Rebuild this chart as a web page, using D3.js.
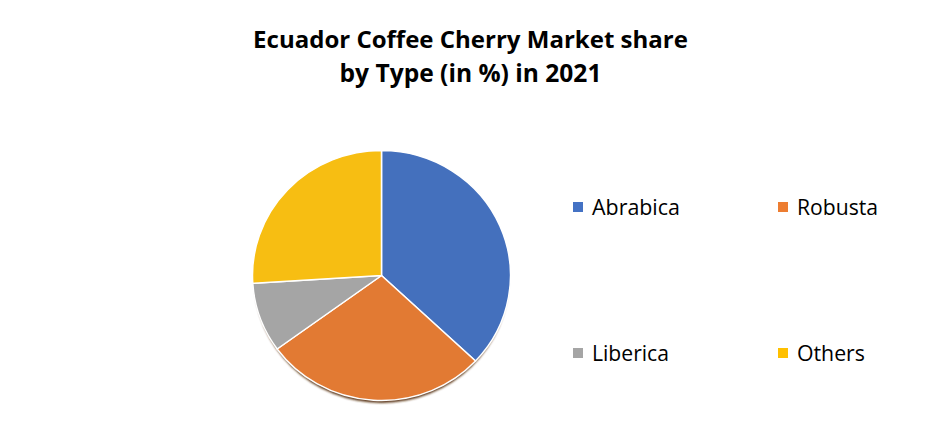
<!DOCTYPE html>
<html>
<head>
<meta charset="utf-8">
<script src="https://cdn.jsdelivr.net/npm/d3@7"></script>
<style>
  body { margin: 0; background: #fff; }
  svg { display: block; font-family: "Open Sans", "Noto Sans", sans-serif; }
</style>
</head>
<body>
<script>
const types = ['Abrabica', 'Robusta', 'Liberica', 'Others'];
const shares = [37, 28, 9, 26];
const colors = ['#4472C4', '#ED7D31', '#A5A5A5', '#FFC000'];
const sliceColors = ['#4470BD', '#E27A33', '#A5A5A5', '#F7BE12'];
const titleLines = ['Ecuador Coffee Cherry Market share', 'by Type (in %) in 2021'];

const width = 940, height = 447;
const svg = d3.select('body').append('svg')
  .attr('width', width)
  .attr('height', height);

// fit text to a target width by adjusting font size
function fitWidth(sel, target) {
  const fs = parseFloat(sel.attr('font-size'));
  const w = sel.node().getComputedTextLength();
  sel.attr('font-size', fs * target / w);
}

// title
const titleWidths = [435, 262];
const titleY = [48, 82];
titleLines.forEach((t, i) => {
  const txt = svg.append('text')
    .attr('x', 470.5)
    .attr('y', titleY[i])
    .attr('text-anchor', 'middle')
    .attr('font-weight', 'bold')
    .attr('font-size', 26)
    .attr('fill', '#000')
    .text(t);
  fitWidth(txt, titleWidths[i]);
});

// pie (slightly squashed vertically, like the original)
const cx = 381.5, cy = 275.5, rx = 129, ry = 125;
const pie = d3.pie().sort(null).startAngle(0).endAngle(2 * Math.PI);
const arc = d3.arc().innerRadius(0).outerRadius(rx);
const arcs = pie(shares);

const defs = svg.append('defs');
defs.append('filter').attr('id', 'blur')
  .attr('x', '-20%').attr('y', '-20%').attr('width', '140%').attr('height', '140%')
  .append('feGaussianBlur').attr('stdDeviation', 1);

const g = svg.append('g').attr('transform', `translate(${cx},${cy}) scale(1,${ry / rx})`);

// shadow under the pie, only shows at the bottom
g.append('circle')
  .attr('cx', 0)
  .attr('cy', 4.5)
  .attr('r', rx - 2)
  .attr('fill', '#5a3414')
  .attr('filter', 'url(#blur)');

g.selectAll('path.slice')
  .data(arcs)
  .enter()
  .append('path')
  .attr('class', 'slice')
  .attr('d', arc)
  .attr('fill', (d, i) => sliceColors[i])
  .attr('stroke', '#fff')
  .attr('stroke-width', 1.5)
  .attr('stroke-linejoin', 'round');

// legend, 2 x 2 grid
const legX = d3.scalePoint().domain([0, 1]).range([573, 778]);
const legY = d3.scalePoint().domain([0, 1]).range([202, 348]);
const leg = svg.selectAll('g.leg')
  .data(types)
  .enter()
  .append('g')
  .attr('class', 'leg')
  .attr('transform', (d, i) => `translate(${legX(i % 2)},${legY(Math.floor(i / 2))})`);

leg.append('rect')
  .attr('width', 10)
  .attr('height', 10)
  .attr('fill', (d, i) => colors[i]);

const legWidths = [88, 81, 77, 68];
leg.append('text')
  .attr('x', 19)
  .attr('y', 13)
  .attr('font-size', 20)
  .attr('fill', '#000')
  .text(d => d)
  .each(function(d, i) { fitWidth(d3.select(this), legWidths[i]); });
</script>
</body>
</html>
